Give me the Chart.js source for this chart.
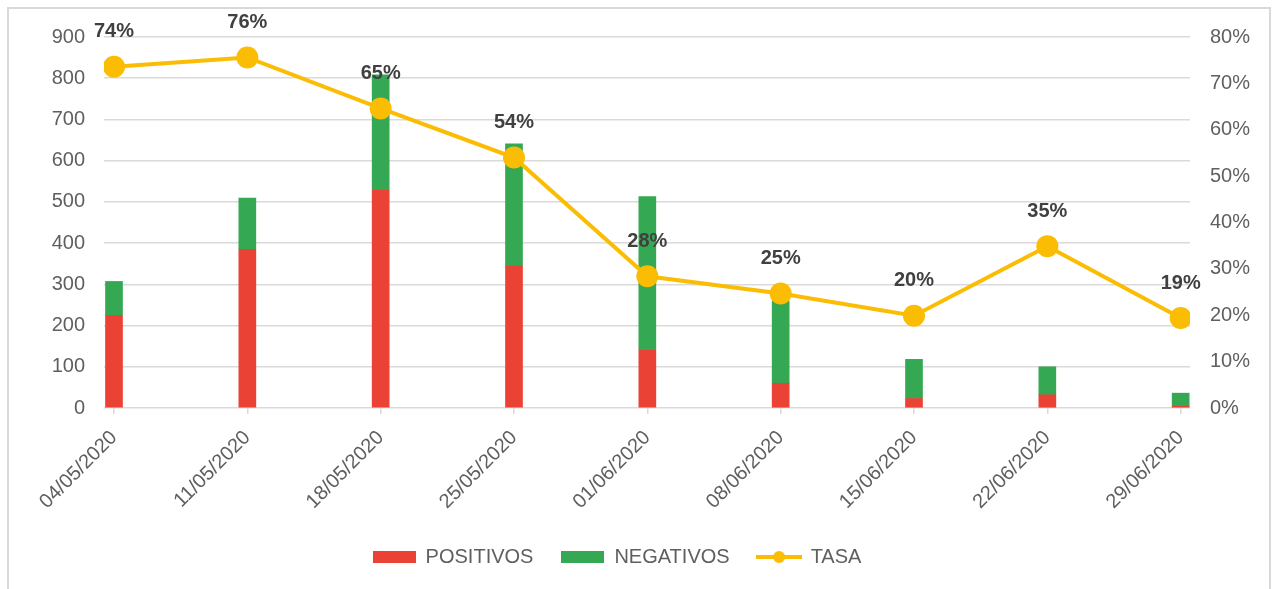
<!DOCTYPE html>
<html>
<head>
<meta charset="utf-8">
<script src="https://cdn.jsdelivr.net/npm/chart.js@4"></script>
<style>
  html, body { margin: 0; padding: 0; background: #ffffff; }
  #wrap { position: relative; width: 1272px; height: 589px; overflow: hidden; background: #fff; }
  #frame { position: absolute; left: 7px; top: 7px; width: 1260px; height: 600px; border: 2px solid #d9d9d9; pointer-events: none; }
  canvas { position: absolute; left: 0; top: 0; }
</style>
</head>
<body>
<div id="wrap">
  <canvas id="c" width="1272" height="589"></canvas>
  <div id="frame"></div>
</div>
<script>
// ---- data ----
const categories = ['04/05/2020', '11/05/2020', '18/05/2020', '25/05/2020', '01/06/2020', '08/06/2020', '15/06/2020', '22/06/2020', '29/06/2020'];
const positivos = [224, 385, 528, 344, 142, 60, 23, 32, 4];
const negativos = [83, 124, 280, 297, 371, 200, 95, 68, 32];
const tasa = [73.6, 75.6, 64.6, 54.0, 28.4, 24.7, 19.9, 34.9, 19.4];
const leftMax = 900, leftStep = 100;
const rightMax = 80, rightStep = 10;
const seriesNames = ['POSITIVOS', 'NEGATIVOS', 'TASA'];

const RED = '#ea4335', GREEN = '#34a853', YELLOW = '#fbbc04';
const FONT = '"Liberation Sans", Arial, sans-serif';
const TXT = '#5f5f5f';

function rectIcon(color) {
  const c = document.createElement('canvas');
  c.width = 43; c.height = 12;
  const g = c.getContext('2d');
  g.fillStyle = color; g.fillRect(0, 0, 43, 12);
  return c;
}
function lineIcon(color) {
  const c = document.createElement('canvas');
  c.width = 46; c.height = 14;
  const g = c.getContext('2d');
  g.strokeStyle = color; g.lineWidth = 4;
  g.beginPath(); g.moveTo(0, 7); g.lineTo(46, 7); g.stroke();
  g.fillStyle = color; g.beginPath(); g.arc(23, 7, 6, 0, Math.PI * 2); g.fill();
  return c;
}
const icons = [rectIcon(RED), rectIcon(GREEN), lineIcon(YELLOW)];

const xy = arr => arr.map((v, i) => ({ x: i, y: v }));

const labelPlugin = {
  id: 'tasaLabels',
  afterDatasetsDraw(chart) {
    const meta = chart.getDatasetMeta(2);
    const ctx = chart.ctx;
    ctx.save();
    ctx.font = 'bold 20px ' + FONT;
    ctx.fillStyle = '#404040';
    ctx.textAlign = 'center';
    ctx.textBaseline = 'middle';
    meta.data.forEach((pt, i) => {
      ctx.fillText(Math.round(tasa[i]) + '%', pt.x, pt.y - 35);
    });
    ctx.restore();
  }
};

// shift the legend block slightly left, as in the reference
const legendShift = {
  id: 'legendShift',
  afterLayout(chart) {
    const lg = chart.legend;
    if (!lg) return;
    lg.left -= 19; lg.right -= 19;
    if (lg.legendHitBoxes) lg.legendHitBoxes.forEach(b => { b.left -= 19; });
  }
};

new Chart(document.getElementById('c'), {
  type: 'bar',
  data: {
    datasets: [
      { label: seriesNames[0], data: xy(positivos), backgroundColor: RED, barThickness: 17, yAxisID: 'y', order: 2 },
      { label: seriesNames[1], data: xy(negativos), backgroundColor: GREEN, barThickness: 17, yAxisID: 'y', order: 2 },
      { type: 'line', label: seriesNames[2], data: xy(tasa), borderColor: YELLOW, backgroundColor: YELLOW,
        borderWidth: 4, pointRadius: 11, pointHoverRadius: 11, pointBackgroundColor: YELLOW, pointBorderWidth: 0,
        tension: 0, yAxisID: 'y1', order: 1 }
    ]
  },
  options: {
    responsive: false,
    animation: false,
    layout: { padding: { top: 37, left: 0, right: 0, bottom: 12 } },
    plugins: {
      tooltip: { enabled: false },
      legend: {
        position: 'bottom',
        labels: {
          usePointStyle: true,
          pointStyleWidth: 43,
          padding: 28,
          color: TXT,
          font: { family: FONT, size: 20 },
          generateLabels: () => seriesNames.map((n, i) => ({
            text: n, pointStyle: icons[i], datasetIndex: i, fillStyle: 'transparent',
            strokeStyle: 'transparent', lineWidth: 0, hidden: false, fontColor: TXT
          }))
        }
      }
    },
    scales: {
      x: {
        type: 'linear',
        offset: false,
        min: -0.075,
        max: 8.07,
        stacked: true,
        afterFit: s => { s.height = 111; },
        border: { display: false },
        grid: { offset: false, drawOnChartArea: false, drawTicks: true, tickLength: 6, color: '#d9d9d9', lineWidth: 1.5 },
        ticks: {
          stepSize: 1, includeBounds: false, autoSkip: false,
          maxRotation: 45, minRotation: 45, padding: 12,
          color: TXT, font: { family: FONT, size: 20 },
          callback: v => (Number.isInteger(v) && categories[v]) ? categories[v] : ''
        }
      },
      y: {
        position: 'left',
        stacked: true,
        min: 0, max: leftMax,
        afterFit: s => { s.width = 104; },
        border: { display: false },
        grid: { color: '#dadada', lineWidth: 1.5, drawTicks: false },
        ticks: { stepSize: leftStep, padding: 19, color: TXT, font: { family: FONT, size: 20 } }
      },
      y1: {
        position: 'right',
        min: 0, max: rightMax,
        afterFit: s => { s.width = 82; },
        border: { display: false },
        grid: { display: false, drawTicks: false },
        ticks: { stepSize: rightStep, padding: 20, color: TXT, font: { family: FONT, size: 20 }, callback: v => v + '%' }
      }
    }
  },
  plugins: [labelPlugin, legendShift]
});
</script>
</body>
</html>
